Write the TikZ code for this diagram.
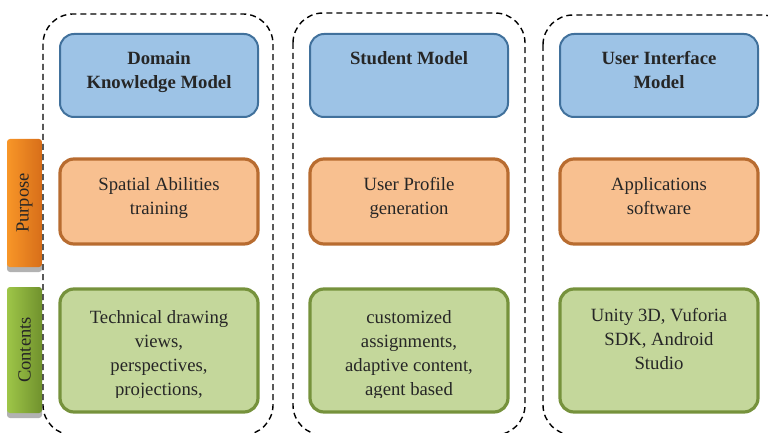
\documentclass[tikz,border=0pt]{standalone}
\usepackage{fontspec}
\setmainfont{Liberation Serif}
\usetikzlibrary{positioning,shadows}
\definecolor{txtgray}{RGB}{38,38,38}
\definecolor{bluefill}{RGB}{157,195,230}
\definecolor{blueline}{RGB}{65,113,156}
\definecolor{orgfill}{RGB}{248,192,144}
\definecolor{orgline}{RGB}{184,108,48}
\definecolor{grnfill}{RGB}{196,215,155}
\definecolor{grnline}{RGB}{118,146,60}
\definecolor{tabog}{RGB}{248,150,40}
\definecolor{tabor}{RGB}{215,110,25}
\definecolor{tabgl}{RGB}{158,198,72}
\definecolor{tabgr}{RGB}{112,145,45}
\begin{document}
\begin{tikzpicture}[x=1pt,y=-1pt,
    box/.style={rounded corners=14pt, minimum width=198pt, inner sep=0pt},
    modelbox/.style={box, draw=blueline, fill=bluefill, line width=2pt, minimum height=83pt},
    purposebox/.style={box, draw=orgline, fill=orgfill, line width=3.2pt, minimum height=85pt},
    contentbox/.style={box, draw=grnline, fill=grnfill, line width=3.2pt, minimum height=123pt},
    txt/.style={align=center, inner sep=0pt, text=txtgray, font=\fontsize{18.7}{24}\selectfont},
    tab/.style={rounded corners=3pt, minimum width=35pt, inner sep=0pt, text=txtgray,
        font=\fontsize{18.5}{24}\selectfont,
        drop shadow={shadow xshift=0pt, shadow yshift=-5pt, fill=black!30, opacity=1}},
    column/.style={draw=black, line width=1.4pt, dash pattern=on 6pt off 4pt, rounded corners=30pt}]
    \clip (0,0) rectangle (768,433);
    % side tabs
    \node[tab, minimum height=128pt, left color=tabog, right color=tabor]
        (purpose) at (24.5,203) {\rotatebox{90}{Purpose}};
    \node[tab, minimum height=126pt, left color=tabgl, right color=tabgr]
        (contents) at (24.5,350) {\rotatebox{90}{Contents}};
    % dashed columns
    \draw[column] (43,14) rectangle (273,435);
    \draw[column] (293,13) rectangle (525,435);
    \draw[column] (543,15) rectangle (792,435);
    % models
    \node[modelbox] (dkm) at (159,75.5) {};
    \node[modelbox] (sm) at (409,75.5) {};
    \node[modelbox] (uim) at (659,75.5) {};
    \node[txt, font=\fontsize{18.7}{24}\selectfont\bfseries, below=18pt of dkm.north] (dkmtxt) {Domain\\Knowledge Model};
    \node[txt, font=\fontsize{18.7}{24}\selectfont\bfseries, below=18pt of sm.north] (smtxt) {Student Model};
    \node[txt, font=\fontsize{18.7}{24}\selectfont\bfseries, below=18pt of uim.north] (uimtxt) {User Interface\\Model};
    % purpose
    \node[purposebox] (pdkm) at (159,201.5) {};
    \node[purposebox] (psm) at (409,201.5) {};
    \node[purposebox] (puim) at (659,201.5) {};
    \node[txt, below=20pt of pdkm.north] (pdkmtxt) {Spatial Abilities\\training};
    \node[txt, below=20pt of psm.north] (psmtxt) {User Profile\\generation};
    \node[txt, below=20pt of puim.north] (puimtxt) {Applications\\software};
    % contents
    \node[contentbox] (cdkm) at (159,350.5) {};
    \node[contentbox] (csm) at (409,350.5) {};
    \node[contentbox] (cuim) at (659,350.5) {};
    \begin{scope}
        \clip (cdkm.north west) rectangle ([yshift=16pt]csm.south east);
        \node[txt, below=23pt of cdkm.north] (cdkmtxt) {Technical drawing\\views,\\perspectives,\\projections,};
        \node[txt, below=23pt of csm.north] (csmtxt) {customized\\assignments,\\adaptive content,\\agent based};
    \end{scope}
    \node[txt, below=21pt of cuim.north] (cuimtxt) {Unity 3D, Vuforia\\SDK, Android\\Studio};
\end{tikzpicture}
\end{document}
